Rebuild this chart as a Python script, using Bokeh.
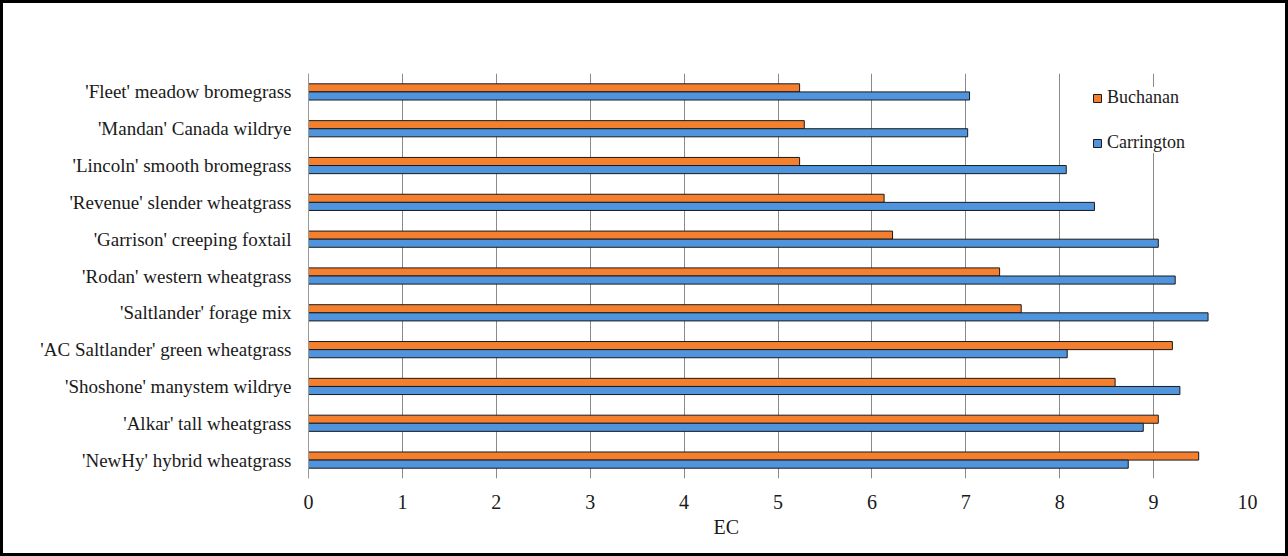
from bokeh.plotting import figure
from bokeh.models import FactorRange, Legend, LegendItem, Title, FixedTicker, ColumnDataSource
from bokeh.transform import dodge
from bokeh.embed import file_html
from bokeh.resources import INLINE

cultivars = [
    "'Fleet' meadow bromegrass",
    "'Mandan' Canada wildrye",
    "'Lincoln' smooth bromegrass",
    "'Revenue' slender wheatgrass",
    "'Garrison' creeping foxtail",
    "'Rodan' western wheatgrass",
    "'Saltlander' forage mix",
    "'AC Saltlander' green wheatgrass",
    "'Shoshone' manystem wildrye",
    "'Alkar' tall wheatgrass",
    "'NewHy' hybrid wheatgrass",
]
buchanan = [5.23, 5.28, 5.23, 6.13, 6.22, 7.36, 7.59, 9.20, 8.59, 9.05, 9.48]
carrington = [7.04, 7.02, 8.07, 8.37, 9.05, 9.23, 9.58, 8.08, 9.28, 8.89, 8.73]
x_ticks = [0, 1, 2, 3, 4, 5, 6, 7, 8, 9, 10]

FONT = "Liberation Serif"
ORANGE = "#F4802F"
BLUE = "#4F94DC"

source = ColumnDataSource(dict(cultivar=cultivars, buchanan=buchanan, carrington=carrington))

p = figure(
    width=1288, height=556,
    y_range=FactorRange(factors=list(reversed(cultivars))),
    x_range=(0, 10),
    output_backend="svg", toolbar_location=None,
    min_border_left=305, min_border_right=44, min_border_top=70, min_border_bottom=81,
)
p.styles = {"border": "3px solid black", "box-sizing": "border-box"}
p.outline_line_color = None
p.background_fill_color = "white"
p.border_fill_color = "white"

r1 = p.hbar(y=dodge("cultivar", 0.11, range=p.y_range), right="buchanan", left=0, height=0.22,
            source=source, fill_color=ORANGE, line_color="#1a1a1a", line_width=1)
r2 = p.hbar(y=dodge("cultivar", -0.11, range=p.y_range), right="carrington", left=0, height=0.22,
            source=source, fill_color=BLUE, line_color="#1a1a1a", line_width=1)

p.xaxis.ticker = FixedTicker(ticks=x_ticks)
p.xaxis.axis_line_color = None
p.xaxis.major_tick_line_color = None
p.xaxis.minor_tick_line_color = None
p.xaxis.major_label_standoff = 10
p.xaxis.major_label_text_font = FONT
p.xaxis.major_label_text_font_size = "20px"
p.xaxis.major_label_text_color = "#1a1a1a"

p.yaxis.axis_line_color = "#999999"
p.yaxis.major_tick_line_color = None
p.yaxis.minor_tick_line_color = None
p.yaxis.major_label_standoff = 11
p.yaxis.major_label_text_font = FONT
p.yaxis.major_label_text_font_size = "19px"
p.yaxis.major_label_text_color = "#1a1a1a"

p.xgrid.grid_line_color = "#8a8a8a"
p.xgrid.grid_line_width = 1
p.ygrid.grid_line_color = None

legend = Legend(
    items=[LegendItem(label="Buchanan", renderers=[r1]), LegendItem(label="Carrington", renderers=[r2])],
    location=(784, 325),
    glyph_width=10, glyph_height=10,
    label_text_font=FONT, label_text_font_size="18px", label_text_color="#1a1a1a",
    label_standoff=5, spacing=24, padding=14, margin=0,
    background_fill_color="white", background_fill_alpha=1.0, border_line_color=None,
)
p.add_layout(legend)

p.add_layout(Title(text="EC", align="left", offset=405, standoff=5,
                   text_font=FONT, text_font_size="20px", text_font_style="normal",
                   text_color="#1a1a1a"), "below")

open("out.html", "w").write(file_html(p, INLINE))
